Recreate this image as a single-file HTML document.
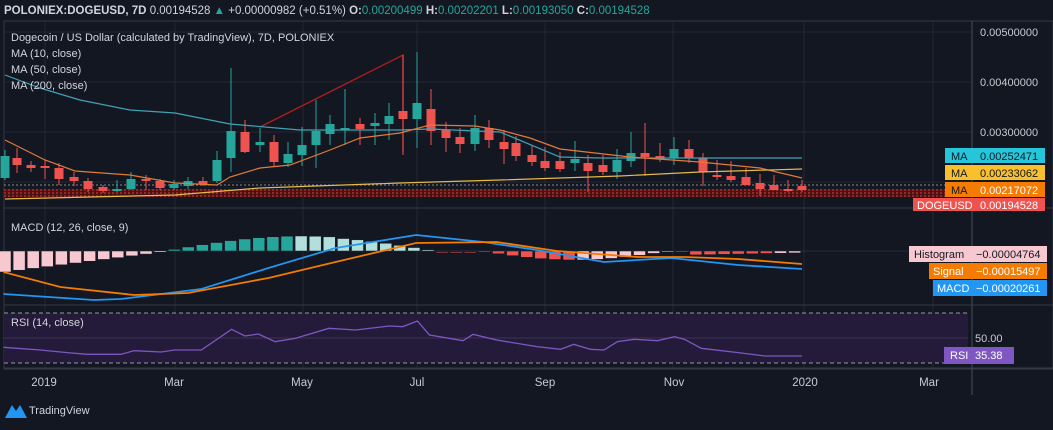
<!DOCTYPE html><html><head><meta charset="utf-8"><style>
body{margin:0;background:#131722;width:1053px;height:425px;overflow:hidden;font-family:"Liberation Sans",sans-serif}
svg text{font-family:"Liberation Sans",sans-serif}
</style></head><body>
<svg id="s" width="1053" height="425" xmlns="http://www.w3.org/2000/svg">
<rect width="1053" height="425" fill="#131722"/>
<text x="4" y="14" font-size="11.5" font-weight="bold" fill="#d1d4dc">POLONIEX:DOGEUSD, 7D <tspan font-weight="normal">0.00194528 </tspan><tspan fill="#26a69a">▲</tspan><tspan font-weight="normal"> +0.00000982 (+0.51%) </tspan>O:<tspan fill="#26a69a" font-weight="normal">0.00200499</tspan> H:<tspan fill="#26a69a" font-weight="normal">0.00202201</tspan> L:<tspan fill="#26a69a" font-weight="normal">0.00193050</tspan> C:<tspan fill="#26a69a" font-weight="normal">0.00194528</tspan></text>
<rect x="4" y="21" width="1049" height="348" fill="#131722" stroke="#363a45"/>
<g stroke="#242733" stroke-width="1">
<line x1="4" y1="32" x2="972" y2="32"/><line x1="4" y1="82" x2="972" y2="82"/><line x1="4" y1="132" x2="972" y2="132"/><line x1="4" y1="182" x2="972" y2="182"/>
<line x1="45" y1="21" x2="45" y2="368"/><line x1="175" y1="21" x2="175" y2="368"/><line x1="303" y1="21" x2="303" y2="368"/><line x1="417" y1="21" x2="417" y2="368"/><line x1="545" y1="21" x2="545" y2="368"/><line x1="673" y1="21" x2="673" y2="368"/><line x1="804" y1="21" x2="804" y2="368"/><line x1="933" y1="21" x2="933" y2="368"/>
</g>
<line x1="972" y1="21" x2="972" y2="395" stroke="#4a4e59"/>
<line x1="4" y1="208" x2="1053" y2="208" stroke="#363a45"/>
<line x1="4" y1="305" x2="1053" y2="305" stroke="#363a45"/>
<line x1="4" y1="368" x2="1053" y2="368" stroke="#363a45"/>
<g font-size="11" fill="#c8cad0">
<text x="980" y="36">0.00500000</text><text x="980" y="86">0.00400000</text><text x="980" y="136">0.00300000</text>
</g>
<!-- red bands -->
<rect x="4" y="189" width="968" height="8" fill="#5a1212" opacity="0.8"/>
<g stroke="#e53935" stroke-dasharray="2,2" stroke-width="1">
<line x1="4" y1="185" x2="972" y2="185" stroke="#888" /><line x1="4" y1="190" x2="972" y2="190"/><line x1="4" y1="193" x2="972" y2="193"/><line x1="4" y1="196" x2="972" y2="196"/>
</g>
<polyline points="260,127 403,55 403,152" fill="none" stroke="#b71c1c" stroke-width="1.3"/>
<g id="candles"></g>
<polyline fill="none" stroke="#3fa3b5" stroke-width="1.2" points="5,75 40,88 80,100 130,110 175,113 230,124 300,130 400,130 430,129 500,132 560,157 600,158 700,158 802,158"/>
<polyline fill="none" stroke="#e07b39" stroke-width="1.2" points="5,140 45,160 75,171 130,175 175,183 217,185 230,177 260,168 290,165 330,150 360,138 400,133 430,125 475,126 500,130 530,138 560,149 630,157 700,162 760,168 802,178"/>
<polyline fill="none" stroke="#e5b94a" stroke-width="1.2" points="5,199 175,195 260,188 400,183 500,180 620,176 700,172 802,169"/>
<g font-size="11" fill="#d1d4dc">
<text x="11" y="41">Dogecoin / US Dollar (calculated by TradingView), 7D, POLONIEX</text>
<text x="11" y="57">MA (10, close)</text><text x="11" y="73">MA (50, close)</text><text x="11" y="89">MA (200, close)</text>
</g>
<g font-size="11">
<rect x="945" y="148" width="100" height="15" fill="#26c6da"/><text x="951" y="160" fill="#131722">MA</text><text x="980" y="160" fill="#131722">0.00252471</text>
<rect x="945" y="165" width="100" height="15" fill="#f9c02d"/><text x="951" y="177" fill="#131722">MA</text><text x="980" y="177" fill="#131722">0.00233062</text>
<rect x="945" y="182" width="100" height="15" fill="#f57c00"/><text x="951" y="194" fill="#131722">MA</text><text x="980" y="194" fill="#fff">0.00217072</text>
<rect x="913" y="198" width="132" height="13" fill="#ef5350"/><text x="917" y="209" fill="#fff">DOGEUSD</text><text x="980" y="209" fill="#fff">0.00194528</text>
</g>
<!-- MACD -->
<text x="11" y="231" font-size="11" fill="#d1d4dc">MACD (12, 26, close, 9)</text>
<line x1="4" y1="251" x2="972" y2="251" stroke="#2a2e39"/>
<g id="hist"></g>
<g transform="scale(0.6711,1)">
<polyline fill="none" stroke="#2196f3" stroke-width="1.8" points="5,294 140,300 180,299 300,289 400,268 500,248 620,235 720,242 800,250 900,262 1000,258 1100,265 1195,269"/>
<polyline fill="none" stroke="#f57c00" stroke-width="1.8" points="5,272 90,287 200,295 280,293 400,278 500,262 620,243 740,242 830,251 950,257 1020,257 1100,259 1195,264"/>
</g>
<g font-size="11">
<rect x="909" y="246" width="138" height="16" fill="#f8c8d0"/><text x="914" y="258" fill="#131722">Histogram</text><text x="976" y="258" fill="#131722">−0.00004764</text>
<rect x="929" y="263" width="118" height="16" fill="#f57c00"/><text x="933" y="275" fill="#fff">Signal</text><text x="976" y="275" fill="#fff">−0.00015497</text>
<rect x="933" y="280" width="114" height="16" fill="#2196f3"/><text x="937" y="292" fill="#fff">MACD</text><text x="976" y="292" fill="#fff">−0.00020261</text>
</g>
<!-- RSI -->
<rect x="4" y="313" width="964" height="50" fill="#241b3a"/>
<line x1="4" y1="313" x2="968" y2="313" stroke="#9598a1" stroke-dasharray="4,3"/>
<line x1="4" y1="363" x2="968" y2="363" stroke="#9598a1" stroke-dasharray="4,3"/>
<line x1="4" y1="338" x2="968" y2="338" stroke="#3a3350"/>
<text x="11" y="326" font-size="11" fill="#d1d4dc">RSI (14, close)</text>
<g transform="translate(0,210) scale(0.6711,0.33333)">
<polyline fill="none" stroke="#7e57c2" stroke-width="1.3" vector-effect="non-scaling-stroke" points="5,412 60,420 100,428 130,433 180,433 200,422 240,426 260,420 300,420 345,358 365,378 385,372 410,395 440,385 490,355 530,360 580,348 600,350 622,333 640,375 690,392 705,373 740,390 800,410 835,418 855,403 880,418 900,420 920,395 945,388 980,392 1005,380 1020,388 1045,415 1100,428 1140,438 1195,438"/>
</g>
<text x="975" y="342" font-size="11" fill="#c8cad0">50.00</text>
<rect x="944" y="347" width="70" height="17" fill="#7e57c2"/><text x="950" y="359" font-size="11" fill="#fff">RSI</text><text x="975" y="359" font-size="11" fill="#fff">35.38</text>
<g font-size="11.5" fill="#c8cad0" text-anchor="middle">
<text x="44" y="386">2019</text><text x="174" y="386">Mar</text><text x="302" y="386">May</text><text x="417" y="386">Jul</text><text x="545" y="386">Sep</text><text x="674" y="386">Nov</text><text x="805" y="386">2020</text><text x="929" y="386">Mar</text>
</g>
<path d="M5,418 L12,405 L16,411 L20,405 L27,418 Z" fill="#2196f3"/>
<text x="29" y="414" font-size="11" fill="#d1d4dc">TradingView</text>
</svg>
<script>
var C=[[5,178,156,150,180],[17,158,165,148,173],[31,165,168,161,172],[45,166,168,160,179],[59,168,179,163,185],[74,177,181,172,186],[88,181,189,178,192],[103,187,191,185,193],[117,191,189,180,192],[131,189,179,172,190],[146,179,181,175,190],[160,181,188,179,190],[174,188,184,180,190],[188,186,181,177,189],[203,181,184,177,186],[217,181,160,151,183],[231,158,131,68,172],[245,132,152,120,153],[260,145,142,128,152],[274,142,162,135,166],[288,163,154,142,167],[302,155,145,127,166],[316,145,131,100,168],[330,134,124,115,145],[345,129,128,89,145],[360,124,129,118,145],[375,126,123,113,145],[389,124,116,103,140],[403,111,119,55,155],[417,119,103,52,148],[431,109,131,89,145],[446,130,138,122,152],[460,137,144,128,153],[475,144,128,115,151],[489,128,140,120,148],
[504,142,149,130,164],[516,143,156,136,161],[532,155,162,146,166],[545,161,168,147,171],[560,161,169,152,172],[575,163,159,141,171],[588,163,171,155,192],[603,165,172,155,175],[617,172,160,149,179],[631,161,153,132,167],[645,153,157,123,176],[660,156,159,143,162],[674,158,149,137,165],[689,149,158,140,163],[703,158,172,153,186],[717,175,177,160,180],[731,176,180,161,182],[746,177,185,168,185],[760,183,189,174,196],[774,185,190,175,188],[788,189,191,180,192],[802,186,190,180,192]];
var g=document.getElementById('candles'),h='';
C.forEach(function(c){var up=c[2]<c[1],col=up?'#26a69a':'#ef5350',t=Math.min(c[1],c[2]),b=Math.max(c[1],c[2]);if(b-t<2)b=t+2;
h+='<line x1="'+c[0]+'" x2="'+c[0]+'" y1="'+c[3]+'" y2="'+c[4]+'" stroke="'+col+'"/><rect x="'+(c[0]-4.5)+'" y="'+t+'" width="9" height="'+(b-t)+'" fill="'+col+'"/>';});
g.innerHTML=h;
var H='',xs=[];
for(var i=0;i<57;i++){var x=5+i*14.1,v;
if(x<165)v=21*(1-(x-5)/165);else if(x<435)v=-15*Math.sin(Math.PI*(x-165)/270)*(x<330?1:0.95);else if(x<480)v=0;
else if(x<670)v=9*Math.sin(Math.PI*(x-480)/190);else if(x<690)v=0;else v=4*(1-(x-690)/200);
var col;if(x<165)col='#f8c8d0';else if(x<435)col=(x<300?'#26a69a':'#b2dfdb');else if(x<670)col=(x<575?'#ef5350':'#f8c8d0');else col=(x<770?'#ef5350':'#f8c8d0');
if(Math.abs(v)<0.8)v=v<0?-1:1;
var y=v>0?251:251+v; y=v>0?251:251; 
if(x<165||(x>=480))H+='<rect x="'+(x-6)+'" y="251" width="12" height="'+Math.abs(v)+'" fill="'+col+'" stroke="#131722" stroke-width="0.5"/>';
else H+='<rect x="'+(x-6)+'" y="'+(251+v)+'" width="12" height="'+Math.abs(v)+'" fill="'+col+'" stroke="#131722" stroke-width="0.5"/>';}
document.getElementById('hist').innerHTML=H;
</script>
</body></html>
